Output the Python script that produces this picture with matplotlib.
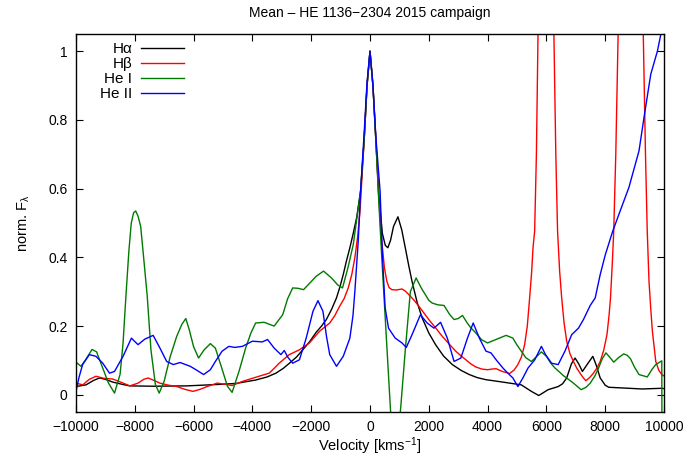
import matplotlib
matplotlib.use("Agg")
import matplotlib.pyplot as plt
import numpy as np

# Halpha (black)
ha_vel = [-10000, -9660, -9400, -9200, -9000, -8750, -8400, -8170, -7380, -6230,
          -5200, -4570, -3890, -3500, -3200, -2950, -2740, -2500, -2285, -2050,
          -1830, -1650, -1485, -1300, -1140, -1020, -910, -800, -685, -570,
          -455, -320, -200, -100, 0, 100, 200, 300, 420, 520,
          607, 700, 800, 950, 1080, 1200, 1320, 1430, 1600, 1773,
          2000, 2230, 2500, 2800, 3100, 3375, 3650, 3945, 4520, 5145,
          5490, 5740, 6060, 6400, 6550, 6690, 6850, 6975, 7100, 7225,
          7400, 7580, 7700, 7830, 8000, 8120, 9260, 9925, 10000]
ha_flux = [0.024, 0.029, 0.042, 0.049, 0.045, 0.037, 0.030, 0.026, 0.025, 0.026,
           0.030, 0.033, 0.043, 0.052, 0.063, 0.077, 0.092, 0.110, 0.131, 0.155,
           0.182, 0.200, 0.219, 0.250, 0.282, 0.315, 0.350, 0.390, 0.428, 0.470,
           0.515, 0.593, 0.740, 0.900, 1.000, 0.900, 0.740, 0.580, 0.470, 0.435,
           0.428, 0.450, 0.490, 0.518, 0.480, 0.428, 0.375, 0.330, 0.270, 0.224,
           0.180, 0.146, 0.113, 0.088, 0.071, 0.059, 0.050, 0.044, 0.037, 0.029,
           0.010, -0.002, 0.015, 0.024, 0.032, 0.049, 0.090, 0.107, 0.090, 0.068,
           0.090, 0.112, 0.085, 0.049, 0.028, 0.022, 0.017, 0.019, 0.018]

# Hbeta (red)
hb_vel = [-10000, -9770, -9550, -9320, -9050, -8750, -8450, -8170, -7890, -7700,
          -7545, -7350, -7145, -6850, -6570, -6300, -6020, -5780, -5540, -5200,
          -4950, -4690, -4340, -3890, -3430, -3250, -3090, -2745, -2400, -2060,
          -1715, -1370, -1200, -1030, -880, -740, -620, -515, -420, -340,
          -200, -100, 0, 100, 200, 300, 400, 490, 573, 650,
          745, 900, 1087, 1200, 1315, 1500, 1660, 2000, 2230, 2460,
          2700, 2915, 3100, 3260, 3430, 3600, 3800, 4000, 4150, 4290,
          4500, 4745, 4900, 5030, 5150, 5260, 5350, 5430, 5500, 5545,
          5600, 5660, 5715, 5800, 5900, 5985, 6100, 6180, 6255, 6320,
          6380, 6450, 6520, 6600, 6690, 6800, 6920, 7030, 7145, 7250,
          7340, 7470, 7600, 7720, 7830, 7950, 8060, 8130, 8180, 8240,
          8290, 8360, 8440, 8600, 8870, 9100, 9295, 9370, 9430, 9490,
          9550, 9605, 9720, 9820, 9925, 10000]
hb_flux = [0.034, 0.029, 0.045, 0.054, 0.048, 0.046, 0.036, 0.026, 0.034, 0.045,
           0.049, 0.042, 0.034, 0.028, 0.024, 0.016, 0.010, 0.016, 0.024, 0.034,
           0.031, 0.027, 0.039, 0.051, 0.063, 0.078, 0.092, 0.117, 0.131, 0.151,
           0.185, 0.209, 0.230, 0.258, 0.280, 0.311, 0.350, 0.399, 0.460, 0.535,
           0.740, 0.900, 1.000, 0.900, 0.740, 0.570, 0.447, 0.370, 0.330, 0.312,
           0.306, 0.305, 0.308, 0.302, 0.292, 0.275, 0.258, 0.219, 0.195, 0.170,
           0.147, 0.127, 0.113, 0.102, 0.090, 0.081, 0.075, 0.073, 0.075, 0.076,
           0.068, 0.062, 0.072, 0.088, 0.110, 0.146, 0.200, 0.282, 0.360, 0.428,
           0.476, 0.700, 1.050, 1.600, 2.200, 2.500, 2.200, 1.600, 1.050, 0.700,
           0.476, 0.360, 0.282, 0.210, 0.156, 0.120, 0.097, 0.078, 0.063, 0.050,
           0.041, 0.050, 0.063, 0.078, 0.097, 0.130, 0.175, 0.230, 0.282, 0.380,
           0.476, 0.700, 1.050, 2.000, 2.500, 2.000, 1.050, 0.700, 0.476, 0.330,
           0.250, 0.185, 0.097, 0.072, 0.059, 0.055]

# He I (green)
hei_vel = [-10000, -9830, -9650, -9455, -9300, -9100, -8900, -8690, -8500, -8400,
           -8300, -8200, -8120, -8040, -7970, -7890, -7800, -7700, -7580, -7450,
           -7300, -7170, -7000,
           -6800, -6575, -6400, -6265, -6150, -6000, -5830, -5650, -5430, -5260,
           -5050, -4850, -4690, -4450, -4230, -4050, -3890, -3600, -3260, -2970,
           -2800, -2630, -2450, -2260, -2050, -1830, -1580, -1310, -1100, -935,
           -750, -570, -320, -200, -100, 0, 100, 200, 300, 400,
           835, 1053, 1200, 1372, 1568, 1750, 2000, 2116, 2300, 2518,
           2700, 2860, 3000, 3145, 3300, 3430, 3600, 3800, 4000, 4200,
           4400, 4630, 4860, 5000, 5145, 5300, 5490, 5650, 5830, 6000,
           6150, 6290, 6450, 6575, 6750, 6920, 7180, 7350, 7490, 7650,
           7775, 7900, 8025, 8150, 8290, 8450, 8630, 8750, 8860, 9000,
           9150, 9430, 9600, 9720, 9925, 9935, 10000]
hei_flux = [0.095, 0.083, 0.105, 0.132, 0.125, 0.080, 0.035, 0.005, 0.060, 0.150,
            0.290, 0.420, 0.500, 0.530, 0.535, 0.520, 0.490, 0.400, 0.290, 0.130,
            0.030, 0.005, 0.040,
            0.110, 0.170, 0.205, 0.222, 0.190, 0.140, 0.107, 0.130, 0.149, 0.136,
            0.080, 0.025, 0.007, 0.070, 0.136, 0.180, 0.209, 0.211, 0.200, 0.233,
            0.280, 0.311, 0.310, 0.306, 0.325, 0.345, 0.360, 0.340, 0.320, 0.311,
            0.370, 0.437, 0.593, 0.740, 0.900, 1.000, 0.900, 0.740, 0.560, 0.400,
            -0.250, -0.028, 0.130, 0.300, 0.340, 0.310, 0.275, 0.267, 0.262, 0.260,
            0.235, 0.219, 0.222, 0.231, 0.210, 0.195, 0.180, 0.160, 0.151, 0.158,
            0.165, 0.173, 0.165, 0.145, 0.127, 0.108, 0.097, 0.110, 0.125, 0.112,
            0.092, 0.078, 0.066, 0.056, 0.045, 0.034, 0.015, 0.022, 0.034, 0.055,
            0.078, 0.105, 0.122, 0.110, 0.095, 0.108, 0.119, 0.115, 0.105, 0.080,
            0.059, 0.052, 0.075, 0.088, 0.099, -0.300, -0.300]

# He II (blue)
heii_vel = [-10000, -9900, -9775, -9545, -9320, -9090, -8860, -8690, -8400, -8115,
            -8000, -7890, -7660, -7375, -7145, -6915, -6690, -6460, -6115, -5900,
            -5660, -5430, -5260, -5030, -4800, -4600, -4340, -4000, -3660, -3485,
            -3260, -3030, -2915, -2800, -2630, -2400, -2170, -1940, -1770, -1600,
            -1480, -1370, -1140, -910, -685, -580, -515, -400, -320, -200,
            -100, 0, 100, 200, 300, 343, 425, 515, 630, 858,
            1087, 1235, 1430, 1715, 1945, 2175, 2400, 2630, 2860, 3090,
            3315, 3510, 3720, 3945, 4115, 4290, 4520, 4690, 4860, 5030,
            5200, 5375, 5605, 5830, 5970, 6175, 6400, 6630, 6860, 7090,
            7260, 7490, 7660, 7830, 8005, 8255, 8530, 8805, 9150, 9320,
            9550, 9775, 9890, 10000]
heii_flux = [0.010, 0.050, 0.088, 0.117, 0.112, 0.092, 0.063, 0.068, 0.112, 0.165,
             0.155, 0.146, 0.162, 0.173, 0.136, 0.097, 0.088, 0.094, 0.083, 0.072,
             0.059, 0.073, 0.097, 0.127, 0.141, 0.138, 0.141, 0.156, 0.154, 0.161,
             0.136, 0.117, 0.129, 0.110, 0.092, 0.102, 0.165, 0.243, 0.274, 0.243,
             0.170, 0.117, 0.083, 0.112, 0.165, 0.230, 0.301, 0.447, 0.593, 0.760,
             0.910, 1.000, 0.900, 0.750, 0.640, 0.593, 0.400, 0.253, 0.194, 0.165,
             0.151, 0.138, 0.175, 0.233, 0.209, 0.194, 0.211, 0.165, 0.097, 0.107,
             0.165, 0.209, 0.165, 0.127, 0.122, 0.102, 0.078, 0.063, 0.049, 0.024,
             0.049, 0.078, 0.102, 0.141, 0.117, 0.092, 0.088, 0.127, 0.175, 0.194,
             0.219, 0.260, 0.282, 0.350, 0.408, 0.476, 0.540, 0.603, 0.710, 0.807,
             0.933, 1.000, 1.048, 1.080]

x_ticks = [-10000, -8000, -6000, -4000, -2000, 0, 2000, 4000, 6000, 8000, 10000]
y_ticks = [0, 0.2, 0.4, 0.6, 0.8, 1.0]
y_tick_labels = ["0", "0.2", "0.4", "0.6", "0.8", "1"]


def main():
    plt.rcParams["font.family"] = ["Liberation Sans", "DejaVu Sans"]
    plt.rcParams["mathtext.fontset"] = "custom"
    plt.rcParams["mathtext.rm"] = "Liberation Sans"
    plt.rcParams["mathtext.it"] = "Liberation Sans"

    fig = plt.figure(figsize=(6.85, 4.61), dpi=100)
    ax = fig.add_axes([76 / 685, 49 / 461, 588 / 685, 378 / 461])

    ax.plot(ha_vel, ha_flux, color="black", lw=1.0, label="H\u03b1")
    ax.plot(hb_vel, hb_flux, color="#ff0000", lw=1.0, label="H\u03b2")
    ax.plot(hei_vel, hei_flux, color="#007a00", lw=1.0, label="He I")
    ax.plot(heii_vel, heii_flux, color="#0000ff", lw=1.0, label="He II")

    ax.set_xlim(-10000, 10000)
    ax.set_ylim(-0.05, 1.05)
    ax.set_xticks(x_ticks)
    ax.set_yticks(y_ticks)
    ax.set_yticklabels(y_tick_labels)
    ax.tick_params(direction="in", top=True, right=True, length=5, width=0.8,
                   labelsize=10, pad=6)
    for s in ax.spines.values():
        s.set_linewidth(1.0)

    ax.set_title("Mean \u2013 HE 1136\u22122304 2015 campaign", fontsize=10, pad=12)
    ax.set_xlabel("Velocity [kms$^{-1}$]", fontsize=10.5, labelpad=0.5)
    ax.set_ylabel(r"norm. F$_\lambda$", fontsize=10.5, labelpad=12)

    leg = ax.legend(loc="upper left", bbox_to_anchor=(0.0408, 0.978), frameon=False,
                    markerfirst=False, fontsize=11, handlelength=2.8,
                    handletextpad=0.6, labelspacing=0.06, borderaxespad=0,
                    borderpad=0)
    for col in leg._legend_handle_box.get_children():
        col.align = "right"

    fig.savefig("out.png", dpi=100)
    plt.close(fig)


if __name__ == "__main__":
    main()
